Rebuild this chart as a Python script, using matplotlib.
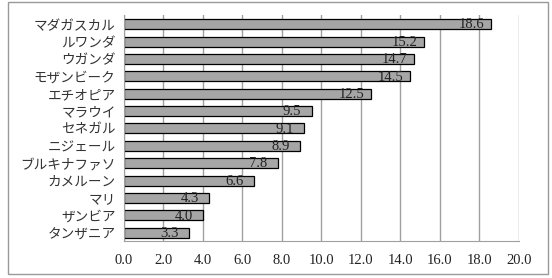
import matplotlib.pyplot as plt
from matplotlib.patches import Rectangle

countries = ["マダガスカル", "ルワンダ", "ウガンダ", "モザンビーク", "エチオピア", "マラウイ",
             "セネガル", "ニジェール", "ブルキナファソ", "カメルーン", "マリ", "ザンビア", "タンザニア"]
values = [18.6, 15.2, 14.7, 14.5, 12.5, 9.5, 9.1, 8.9, 7.8, 6.6, 4.3, 4.0, 3.3]
xticks = [0, 2, 4, 6, 8, 10, 12, 14, 16, 18, 20]

grid_col = "#a0a0a0"

fig = plt.figure(figsize=(5.52, 2.78), dpi=100)
ax = fig.add_axes([0.2246, 0.133, 0.7156, 0.813])

# outer frame
fig.patches.append(Rectangle((8 / 552, 4 / 278), 540 / 552, 272 / 278, transform=fig.transFigure,
                             fill=False, edgecolor="#999999", linewidth=1.0))

ypos = list(range(len(countries)))
ax.barh(ypos, values, height=0.58, color="#a6a6a6", edgecolor="black", linewidth=0.9, zorder=3)

for y, v in zip(ypos, values):
    ax.annotate(f"{v:.1f}", (v, y), xytext=(-14, -0.5), textcoords="offset points",
                ha="center", va="center", fontsize=10.5, family="Liberation Serif",
                color="#222222", zorder=4)

ax.set_xlim(0, 20)
ax.set_ylim(12.48, -0.53)
ax.set_xticks(xticks)
ax.set_xticklabels([f"{t:.1f}" for t in xticks], family="Liberation Serif", fontsize=10.5,
                   color="#222222")
ax.set_yticks(ypos)
ax.set_yticklabels(countries, family=["Noto Sans CJK JP", "DejaVu Sans"], fontsize=9.8,
                   color="#333333")
ax.tick_params(length=0, pad=6)
ax.tick_params(axis="x", pad=9)

ax.grid(axis="x", color=grid_col, linewidth=1.0, zorder=0)
ax.spines["top"].set_visible(False)
ax.spines["right"].set_visible(False)
ax.spines["left"].set_color(grid_col)
ax.spines["bottom"].set_color(grid_col)
ax.spines["left"].set_zorder(5)

fig.savefig("out.png", dpi=100)
